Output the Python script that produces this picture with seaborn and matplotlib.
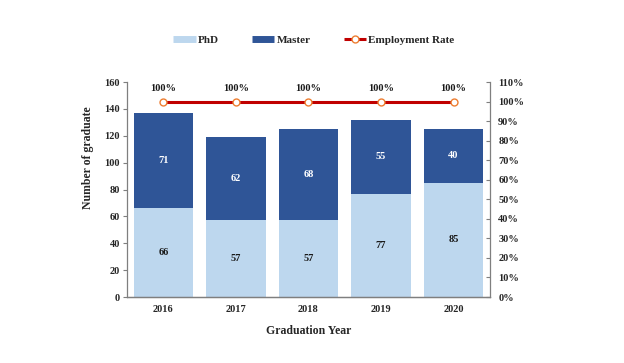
import matplotlib
matplotlib.use("Agg")
import matplotlib.pyplot as plt
from matplotlib.lines import Line2D
import seaborn as sns
import numpy as np
import pandas as pd

years = ["2016", "2017", "2018", "2019", "2020"]
phd = [66, 57, 57, 77, 85]
master = [71, 62, 68, 55, 40]
employment_rate = [100, 100, 100, 100, 100]

c_phd = "#BDD7EE"
c_master = "#2F5597"
c_line = "#C00000"
c_marker = "#ED7D31"

sns.set_theme(style="white")
plt.rcParams["font.family"] = ["Liberation Serif", "DejaVu Serif"]
plt.rcParams["font.weight"] = "bold"

df = pd.DataFrame({"year": years, "phd": phd, "master": master})
df["total"] = df["phd"] + df["master"]

fig = plt.figure(figsize=(6.24, 3.63), dpi=100)
ax = fig.add_axes([0.2035, 0.1818, 0.5815, 0.592])

sns.barplot(data=df, x="year", y="total", color=c_master, width=0.82,
            saturation=1, ax=ax, edgecolor="none")
sns.barplot(data=df, x="year", y="phd", color=c_phd, width=0.82,
            saturation=1, ax=ax, edgecolor="none")

ax.set_ylim(0, 160)
ax.set_yticks(range(0, 161, 20))
ax.set_xlim(-0.5, 4.5)
ax.set_xlabel("Graduation Year", fontsize=8.5, fontweight="bold", labelpad=8)
ax.set_ylabel("Number of graduate", fontsize=8.5, fontweight="bold")
ax.yaxis.set_label_coords(-0.092, 0.647)

for i, (p, m) in enumerate(zip(phd, master)):
    ax.text(i, p / 2, str(p), ha="center", va="center", fontsize=7.5,
            fontweight="bold", color="#1a1a1a")
    ax.text(i, p + m / 2, str(m), ha="center", va="center", fontsize=7.5,
            fontweight="bold", color="white")

ax2 = ax.twinx()
sns.lineplot(x=np.arange(len(years)), y=employment_rate, ax=ax2, color=c_line,
             linewidth=2.2, marker="o", markersize=5, markerfacecolor="white",
             markeredgecolor=c_marker, markeredgewidth=1.0)
ax2.set_ylim(0, 110)
ax2.set_yticks(range(0, 111, 10))
ax2.set_yticklabels([f"{v}%" for v in range(0, 111, 10)])
for i, r in enumerate(employment_rate):
    ax2.text(i, r + 4.2, f"{r}%", ha="center", va="bottom", fontsize=7.5,
             fontweight="bold", color="#1a1a1a")

for a in (ax, ax2):
    for s in a.spines.values():
        s.set_color("#7f7f7f")
        s.set_linewidth(0.9)
    a.spines["top"].set_visible(False)

ax2.spines["left"].set_visible(False)
ax.spines["right"].set_visible(False)

ax.tick_params(axis="y", labelsize=7.5, direction="out", length=3,
               width=0.8, color="#7f7f7f", pad=2, left=True)
ax.tick_params(axis="x", labelsize=7.5, length=0, pad=6)
ax2.tick_params(axis="y", labelsize=7.5, direction="in", length=3,
                width=0.8, color="#7f7f7f", pad=6, right=True)
for lab in ax.get_xticklabels() + ax.get_yticklabels() + ax2.get_yticklabels():
    lab.set_fontweight("bold")

handles = [
    Line2D([0], [0], color=c_phd, lw=5, solid_capstyle="butt"),
    Line2D([0], [0], color=c_master, lw=5, solid_capstyle="butt"),
    Line2D([0], [0], color=c_line, lw=2.2, marker="o", markersize=5,
           markerfacecolor="white", markeredgecolor=c_marker,
           solid_capstyle="butt"),
]
fig.legend(handles, ["PhD", "Master", "Employment Rate"], loc="center",
           bbox_to_anchor=(0.503, 0.89), ncol=3, frameon=False,
           prop={"size": 8, "weight": "bold"}, columnspacing=3,
           handlelength=2.0, handletextpad=0.2)

fig.savefig("out.png", dpi=100)
